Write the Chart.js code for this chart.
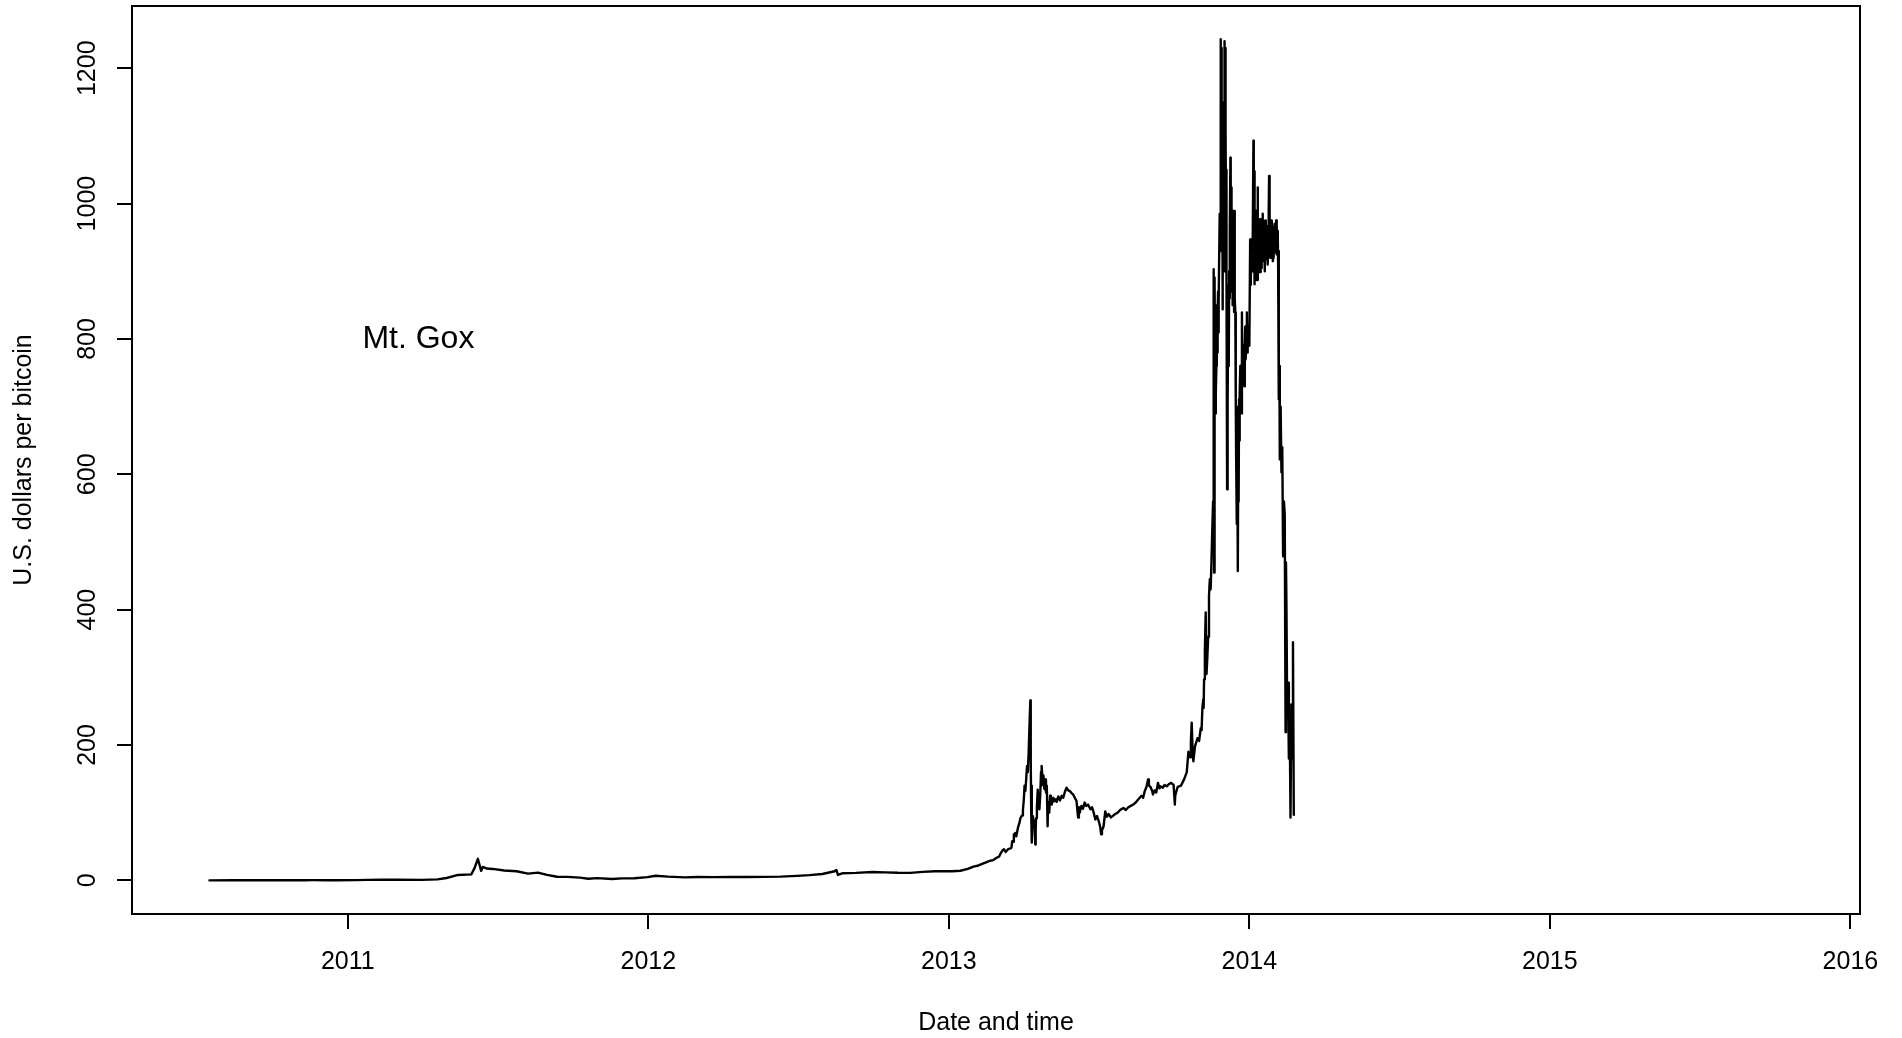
<!DOCTYPE html>
<html>
<head>
<meta charset="utf-8">
<title>Mt. Gox bitcoin price</title>
<script src="https://cdn.jsdelivr.net/npm/chart.js"></script>
<style>
  html, body { margin: 0; padding: 0; background: #ffffff; }
  canvas { display: block; }
</style>
</head>
<body>
<canvas id="chart" width="1902" height="1038"></canvas>
<script>
// Mt. Gox BTC/USD trade prices, July 2010 - February 2014

// 2010 - 2012: slow years
const dates2010to2012 = [
  "2010-07-17","2010-08-15","2010-09-15","2010-10-15","2010-11-06","2010-11-10","2010-11-20","2010-12-05",
  "2010-12-20","2011-01-10","2011-02-10","2011-03-01","2011-04-01","2011-04-20","2011-05-01","2011-05-15",
  "2011-05-31","2011-06-04","2011-06-08","2011-06-10","2011-06-12","2011-06-14","2011-06-19","2011-06-26",
  "2011-07-10","2011-07-25","2011-08-08","2011-08-20","2011-08-31","2011-09-12","2011-09-25","2011-10-10",
  "2011-10-20","2011-10-31","2011-11-18","2011-11-30","2011-12-15","2011-12-31","2012-01-10","2012-01-25",
  "2012-02-15","2012-03-01","2012-03-20","2012-04-10","2012-05-01","2012-05-20","2012-06-10","2012-06-30",
  "2012-07-15","2012-07-31","2012-08-15","2012-08-17","2012-08-19","2012-08-25","2012-09-10","2012-09-30",
  "2012-10-15","2012-10-31","2012-11-15","2012-11-30","2012-12-15","2012-12-31"
];
const prices2010to2012 = [
  0.05, 0.07, 0.06, 0.10, 0.39, 0.28, 0.29, 0.20,
  0.25, 0.30, 1.06, 0.90, 0.78, 1.50, 3.50, 8.00,
  8.80, 18.0, 31.9, 23.0, 14.0, 19.8, 17.5, 16.9,
  14.5, 13.4, 10.0, 11.5, 8.2, 5.3, 5.1, 4.1,
  2.3, 3.25, 2.05, 2.97, 3.2, 4.72, 6.9, 5.5,
  4.4, 4.9, 4.8, 4.9, 5.0, 5.1, 5.6, 6.7,
  7.7, 9.4, 13.5, 15.4, 8.0, 10.6, 11.0, 12.4,
  11.8, 11.2, 11.1, 12.6, 13.5, 13.5
];

// 2013 up to early October: April spike and summer plateau
const dates2013 = [
  "2013-01-05","2013-01-15","2013-01-24","2013-01-31","2013-02-06","2013-02-12","2013-02-16","2013-02-20",
  "2013-02-24","2013-02-28","2013-03-03","2013-03-05","2013-03-07","2013-03-09","2013-03-11","2013-03-14",
  "2013-03-16","2013-03-18","2013-03-19","2013-03-20","2013-03-21","2013-03-23","2013-03-24","2013-03-26",
  "2013-03-28","2013-03-29","2013-03-31","2013-04-01","2013-04-02","2013-04-03","2013-04-04","2013-04-05",
  "2013-04-06","2013-04-07","2013-04-08","2013-04-09","2013-04-10","2013-04-10T08","2013-04-10T16","2013-04-11",
  "2013-04-11T12","2013-04-12","2013-04-12T12","2013-04-13","2013-04-14","2013-04-15","2013-04-16","2013-04-16T12",
  "2013-04-17","2013-04-18","2013-04-19","2013-04-19T12","2013-04-20","2013-04-21","2013-04-22","2013-04-23",
  "2013-04-23T12","2013-04-24","2013-04-25","2013-04-26","2013-04-27","2013-04-28","2013-04-29","2013-04-30",
  "2013-05-01","2013-05-01T12","2013-05-02","2013-05-03","2013-05-04","2013-05-05","2013-05-06","2013-05-08",
  "2013-05-09","2013-05-11","2013-05-12","2013-05-14","2013-05-16","2013-05-18","2013-05-20","2013-05-22",
  "2013-05-24","2013-05-26","2013-05-28","2013-05-30","2013-06-01","2013-06-03","2013-06-05","2013-06-07",
  "2013-06-08","2013-06-09","2013-06-11","2013-06-13","2013-06-15","2013-06-17","2013-06-19","2013-06-22",
  "2013-06-24","2013-06-26","2013-06-28","2013-06-30","2013-07-02","2013-07-04","2013-07-05","2013-07-06",
  "2013-07-08","2013-07-10","2013-07-12","2013-07-14","2013-07-17","2013-07-19","2013-07-22","2013-07-25",
  "2013-07-28","2013-08-01","2013-08-04","2013-08-07","2013-08-10","2013-08-13","2013-08-16","2013-08-18",
  "2013-08-20","2013-08-23","2013-08-25","2013-08-27","2013-08-29","2013-08-31","2013-09-01","2013-09-03",
  "2013-09-05","2013-09-06","2013-09-08","2013-09-10","2013-09-12","2013-09-14","2013-09-15","2013-09-18",
  "2013-09-20","2013-09-23","2013-09-25","2013-09-28","2013-10-01","2013-10-02T12","2013-10-03","2013-10-04"
];
const prices2013 = [
  13.4, 14.2, 17, 20.4, 22, 25, 27, 29,
  30, 33.4, 35, 40, 44, 46, 42, 46,
  47, 48, 58, 57, 68, 70, 65, 78,
  86, 92, 96, 104, 118, 140, 132, 150,
  169, 160, 190, 230, 266, 200, 180, 105,
  140, 56, 90, 95, 88, 82, 53, 75,
  92, 110, 134, 118, 122, 105, 125, 160,
  140, 169, 145, 155, 135, 149, 130, 140,
  80, 115, 105, 100, 125, 115, 112, 122,
  117, 120, 116, 124, 118, 125, 122, 131,
  137, 133, 132, 129, 127, 122, 118, 93,
  108, 100, 110, 106, 115, 110, 112, 105,
  108, 100, 90, 95, 88, 78, 68, 74,
  80, 102, 94, 98, 93, 95, 98, 100,
  104, 107, 104, 108, 110, 112, 115, 118,
  121, 125, 122, 132, 138, 149, 140, 138,
  132, 127, 133, 130, 144, 136, 139, 137,
  141, 139, 142, 144, 141, 112, 125, 130
];

// October 2013 - February 2014: bubble, peak and collapse of the exchange
const datesBubble = [
  "2013-10-06","2013-10-10","2013-10-14","2013-10-17","2013-10-19","2013-10-21","2013-10-22","2013-10-23",
  "2013-10-24","2013-10-25","2013-10-27","2013-10-30","2013-11-01","2013-11-03","2013-11-04","2013-11-05",
  "2013-11-06","2013-11-06T12","2013-11-07","2013-11-08","2013-11-09","2013-11-10","2013-11-11","2013-11-12",
  "2013-11-13","2013-11-14","2013-11-15","2013-11-16","2013-11-17","2013-11-18","2013-11-18T08","2013-11-18T16",
  "2013-11-19","2013-11-19T06","2013-11-19T14","2013-11-20","2013-11-20T12","2013-11-21","2013-11-21T12","2013-11-22",
  "2013-11-22T12","2013-11-23","2013-11-23T12","2013-11-24","2013-11-24T12","2013-11-25","2013-11-26","2013-11-26T12",
  "2013-11-27","2013-11-27T06","2013-11-27T12","2013-11-27T18","2013-11-28","2013-11-28T06","2013-11-28T12","2013-11-28T18",
  "2013-11-29","2013-11-29T06","2013-11-29T12","2013-11-29T18","2013-11-30","2013-11-30T12","2013-12-01","2013-12-01T06",
  "2013-12-01T12","2013-12-01T18","2013-12-02","2013-12-02T06","2013-12-02T12","2013-12-02T18","2013-12-03","2013-12-03T06",
  "2013-12-03T12","2013-12-03T18","2013-12-04","2013-12-04T12","2013-12-05","2013-12-05T06","2013-12-05T12","2013-12-05T18",
  "2013-12-06","2013-12-06T12","2013-12-07","2013-12-07T12","2013-12-08","2013-12-08T12","2013-12-09","2013-12-09T06",
  "2013-12-09T12","2013-12-09T18","2013-12-10","2013-12-10T06","2013-12-10T12","2013-12-10T18","2013-12-11","2013-12-11T12",
  "2013-12-12","2013-12-12T12","2013-12-13","2013-12-13T12","2013-12-14","2013-12-14T12","2013-12-15","2013-12-15T12",
  "2013-12-16","2013-12-16T12","2013-12-17","2013-12-17T12","2013-12-18","2013-12-18T12","2013-12-19","2013-12-19T12",
  "2013-12-20","2013-12-20T12","2013-12-21","2013-12-21T12","2013-12-22","2013-12-23","2013-12-23T12","2013-12-24",
  "2013-12-25","2013-12-26","2013-12-26T12","2013-12-27","2013-12-27T12","2013-12-28","2013-12-29","2013-12-29T12",
  "2013-12-30","2013-12-31","2014-01-01","2014-01-02","2014-01-02T12","2014-01-03","2014-01-04","2014-01-04T12",
  "2014-01-05","2014-01-06","2014-01-06T06","2014-01-06T12","2014-01-06T18","2014-01-07","2014-01-07T06","2014-01-07T12",
  "2014-01-07T18","2014-01-08","2014-01-08T12","2014-01-09","2014-01-09T12","2014-01-10","2014-01-10T12","2014-01-11",
  "2014-01-11T06","2014-01-11T12","2014-01-11T18","2014-01-12","2014-01-12T12","2014-01-13","2014-01-13T12","2014-01-14",
  "2014-01-14T12","2014-01-15","2014-01-15T12","2014-01-16","2014-01-16T12","2014-01-17","2014-01-17T12","2014-01-18",
  "2014-01-18T12","2014-01-19","2014-01-19T12","2014-01-20","2014-01-20T12","2014-01-21","2014-01-21T12","2014-01-22",
  "2014-01-22T12","2014-01-23","2014-01-23T12","2014-01-24","2014-01-24T12","2014-01-25","2014-01-25T06","2014-01-25T12",
  "2014-01-25T18","2014-01-26","2014-01-26T12","2014-01-27","2014-01-27T12","2014-01-28","2014-01-28T12","2014-01-29",
  "2014-01-29T12","2014-01-30","2014-01-30T12","2014-01-31","2014-01-31T12","2014-02-01","2014-02-01T12","2014-02-02",
  "2014-02-02T12","2014-02-03","2014-02-03T12","2014-02-04","2014-02-04T12","2014-02-05","2014-02-05T12","2014-02-06",
  "2014-02-06T12","2014-02-07","2014-02-08","2014-02-09","2014-02-10","2014-02-11","2014-02-12","2014-02-13",
  "2014-02-14","2014-02-14T12","2014-02-15","2014-02-16","2014-02-17","2014-02-18","2014-02-19","2014-02-20",
  "2014-02-21","2014-02-22","2014-02-23","2014-02-24"
];
const pricesBubble = [
  138, 140, 150, 160, 190, 182, 205, 233,
  195, 176, 198, 210, 206, 225, 222, 255,
  267, 255, 297, 340, 396, 305, 330, 360,
  420, 445, 430, 470, 519, 560, 711, 620,
  903, 455, 700, 891, 690, 820, 720, 760,
  850, 780, 840, 870, 810, 860, 985, 930,
  1243, 1000, 1200, 1061, 1230, 970, 1180, 1000,
  1150, 880, 1100, 844, 1050, 900, 1120, 960,
  1200, 1050, 1240, 1080, 1230, 1000, 1154, 900,
  1110, 950, 1050, 890, 578, 850, 700, 849,
  700, 880, 760, 900, 860, 960, 1068, 900,
  1000, 870, 1024, 900, 980, 880, 990, 850,
  940, 860, 928, 840, 989, 860, 839, 711,
  620, 700, 527, 600, 457, 613, 560, 711,
  650, 720, 760, 700, 690, 839, 760, 770,
  790, 730, 790, 818, 770, 785, 839, 780,
  790, 820, 790, 947, 880, 890, 942, 900,
  930, 1093, 940, 1020, 960, 1048, 881, 990,
  900, 990, 900, 960, 910, 887, 960, 1024,
  920, 887, 940, 950, 900, 899, 950, 977,
  899, 960, 905, 910, 970, 985, 920, 915,
  975, 960, 900, 920, 965, 975, 920, 918,
  960, 967, 910, 930, 985, 1041, 940, 928,
  990, 960, 920, 971, 930, 925, 975, 958,
  915, 920, 965, 928, 970, 960, 930, 935,
  975, 952, 925, 937, 960, 903, 930, 711,
  760, 622, 700, 603, 640, 479, 560, 541,
  219, 470, 415, 248, 292, 180, 240, 93,
  260, 180, 352, 97
];

// Axis ticks and labels
const yearTicks = [2011, 2012, 2013, 2014, 2015, 2016];
const priceTicks = [0, 200, 400, 600, 800, 1000, 1200];
const xAxisTitle = "Date and time";
const yAxisTitle = "U.S. dollars per bitcoin";
const exchangeLabel = "Mt. Gox";
const exchangeLabelAt = [2011.235, 800];

// Date string -> fractional calendar year
function toDecimalYear(s) {
  const iso = s.length === 10 ? s + "T00:00Z" : s + ":00Z";
  const t = Date.parse(iso);
  const y = new Date(t).getUTCFullYear();
  const a = Date.UTC(y, 0, 1), b = Date.UTC(y + 1, 0, 1);
  return y + (t - a) / (b - a);
}

const allDates = dates2010to2012.concat(dates2013, datesBubble);
const allPrices = prices2010to2012.concat(prices2013, pricesBubble);
const points = allDates.map((d, i) => ({ x: toDecimalYear(d), y: allPrices[i] }));

const FAMILY = '"Liberation Sans", Arial, "DejaVu Sans", sans-serif';
const axisFont = { family: FAMILY, size: 25, lineHeight: 1.2 };

// Plot frame and the in-plot exchange label
const framePlugin = {
  id: 'frameAndLabel',
  afterDraw(chart) {
    const { ctx, chartArea: a, scales } = chart;
    ctx.save();
    ctx.strokeStyle = '#000';
    ctx.lineWidth = 2;
    ctx.strokeRect(a.left, a.top, a.right - a.left, a.bottom - a.top);
    ctx.fillStyle = '#000';
    ctx.font = '32px ' + FAMILY;
    ctx.textAlign = 'center';
    ctx.textBaseline = 'middle';
    ctx.fillText(exchangeLabel,
      scales.x.getPixelForValue(exchangeLabelAt[0]),
      scales.y.getPixelForValue(exchangeLabelAt[1]));
    ctx.restore();
  }
};

new Chart(document.getElementById('chart'), {
  type: 'line',
  data: {
    datasets: [{
      data: points,
      borderColor: '#000',
      borderWidth: 2.4,
      pointRadius: 0,
      tension: 0,
      fill: false,
      borderJoinStyle: 'round',
      borderCapStyle: 'round'
    }]
  },
  options: {
    responsive: false,
    animation: false,
    devicePixelRatio: 1,
    layout: { padding: { left: 0, top: 6, right: 42, bottom: 0 } },
    plugins: { legend: { display: false }, tooltip: { enabled: false } },
    scales: {
      x: {
        type: 'linear',
        min: 2010.282,
        max: 2016.032,
        afterBuildTicks: s => { s.ticks = yearTicks.map(v => ({ value: v })); },
        afterFit: s => { s.height = 124; s.paddingLeft = 0; s.paddingRight = 0; },
        ticks: {
          autoSkip: false, maxRotation: 0, minRotation: 0,
          padding: 18, color: '#000', font: axisFont,
          callback: v => String(v)
        },
        grid: { drawOnChartArea: false, drawTicks: true, tickLength: 15, color: '#000', lineWidth: 2 },
        border: { display: false },
        title: { display: true, text: xAxisTitle, color: '#000', font: axisFont, padding: { top: 0, bottom: 0 } }
      },
      y: {
        type: 'linear',
        min: -49.7,
        max: 1292,
        afterBuildTicks: s => { s.ticks = priceTicks.map(v => ({ value: v })); },
        afterFit: s => { s.width = 132; s.paddingTop = 0; s.paddingBottom = 0; },
        ticks: {
          autoSkip: false, minRotation: 90, maxRotation: 90, crossAlign: 'center',
          padding: 1, color: '#000', font: axisFont,
          callback: v => String(v)
        },
        grid: { drawOnChartArea: false, drawTicks: true, tickLength: 15, color: '#000', lineWidth: 2 },
        border: { display: false },
        title: { display: true, text: yAxisTitle, color: '#000', font: axisFont, padding: { top: 9, bottom: 0 } }
      }
    }
  },
  plugins: [framePlugin]
});
</script>
</body>
</html>
